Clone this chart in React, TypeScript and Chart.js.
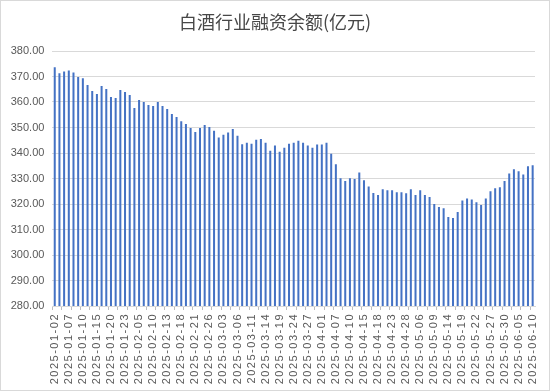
import React, { useEffect, useRef } from "react";
import { Chart, registerables } from "chart.js";

Chart.register(...registerables);

const chartTitle = "白酒行业融资余额(亿元)";

const dates = [
  "2025-01-02", "2025-01-03", "2025-01-06", "2025-01-07", "2025-01-08", "2025-01-09", "2025-01-10",
  "2025-01-13", "2025-01-14", "2025-01-15", "2025-01-16", "2025-01-17", "2025-01-20", "2025-01-21",
  "2025-01-22", "2025-01-23", "2025-01-24", "2025-01-27", "2025-02-05", "2025-02-06", "2025-02-07",
  "2025-02-10", "2025-02-11", "2025-02-12", "2025-02-13", "2025-02-14", "2025-02-17", "2025-02-18",
  "2025-02-19", "2025-02-20", "2025-02-21", "2025-02-24", "2025-02-25", "2025-02-26", "2025-02-27",
  "2025-02-28", "2025-03-03", "2025-03-04", "2025-03-05", "2025-03-06", "2025-03-07", "2025-03-10",
  "2025-03-11", "2025-03-12", "2025-03-13", "2025-03-14", "2025-03-17", "2025-03-18", "2025-03-19",
  "2025-03-20", "2025-03-21", "2025-03-24", "2025-03-25", "2025-03-26", "2025-03-27", "2025-03-28",
  "2025-03-31", "2025-04-01", "2025-04-02", "2025-04-03", "2025-04-07", "2025-04-08", "2025-04-09",
  "2025-04-10", "2025-04-11", "2025-04-14", "2025-04-15", "2025-04-16", "2025-04-17", "2025-04-18",
  "2025-04-21", "2025-04-22", "2025-04-23", "2025-04-24", "2025-04-25", "2025-04-28", "2025-04-29",
  "2025-04-30", "2025-05-06", "2025-05-07", "2025-05-08", "2025-05-09", "2025-05-12", "2025-05-13",
  "2025-05-14", "2025-05-15", "2025-05-16", "2025-05-19", "2025-05-20", "2025-05-21", "2025-05-22",
  "2025-05-23", "2025-05-26", "2025-05-27", "2025-05-28", "2025-05-29", "2025-05-30", "2025-06-03",
  "2025-06-04", "2025-06-05", "2025-06-06", "2025-06-09", "2025-06-10",
];

const balances = [
  373.6, 371.3, 372.0, 372.4, 371.6, 369.8, 369.3, 366.7, 364.3, 363.1,
  366.3, 365.1, 362.0, 361.6, 364.7, 363.9, 362.7, 357.6, 360.8, 360.0,
  358.8, 358.4, 360.0, 358.4, 357.3, 355.3, 354.1, 352.5, 351.4, 349.8,
  348.2, 349.8, 351.0, 350.2, 348.7, 346.1, 347.2, 348.0, 349.4, 346.8,
  343.4, 344.0, 343.6, 345.2, 345.5, 344.0, 340.9, 342.9, 340.5, 342.1,
  343.6, 344.0, 344.8, 344.0, 342.9, 342.1, 343.3, 343.3, 344.0, 339.7,
  335.6, 330.1, 329.0, 330.1, 329.8, 332.4, 329.3, 326.9, 324.3, 323.5,
  325.8, 325.4, 325.4, 324.6, 324.6, 324.2, 325.8, 323.5, 325.4, 323.5,
  322.7, 320.0, 318.8, 318.3, 314.9, 314.5, 316.9, 321.4, 322.2, 321.8,
  320.7, 319.6, 322.2, 325.0, 326.2, 326.6, 329.0, 332.0, 333.6, 332.8,
  331.6, 334.8, 335.2,
];

const yMin = 280;
const yMax = 380;
const yStep = 10;
const labelEvery = 3;

const textColor = "#595959";
const titleColor = "#474747";
const barColor = "#4472C4";
const gridColor = "#d9d9d9";

const spacingPlugin = {
  id: "xLabelSpacing",
  beforeDraw(chart: any) {
    const xs = chart.scales.x;
    if (xs && !xs.__patched) {
      const orig = xs.drawLabels.bind(xs);
      xs.drawLabels = (area: any) => {
        const ctx = chart.ctx;
        ctx.save();
        (ctx as any).letterSpacing = "1.5px";
        orig(area);
        ctx.restore();
      };
      xs.__patched = true;
    }
  },
};

export default function App() {
  const ref = useRef<HTMLCanvasElement>(null);
  useEffect(() => {
    document.body.style.margin = "0";
    const chart = new Chart(ref.current!, {
      type: "bar",
      data: {
        labels: dates,
        datasets: [
          {
            data: balances,
            backgroundColor: barColor,
            barPercentage: 0.43,
            categoryPercentage: 1,
          },
        ],
      },
      plugins: [spacingPlugin],
      options: {
        responsive: false,
        animation: false,
        devicePixelRatio: 1,
        layout: { padding: { left: 0, right: 0, top: 0, bottom: 2 } },
        plugins: {
          legend: { display: false },
          tooltip: { enabled: false },
          title: {
            display: true,
            text: chartTitle,
            color: titleColor,
            font: { family: "'Noto Sans CJK SC', 'Liberation Sans', sans-serif", size: 18, weight: "normal" },
            padding: { top: 10, bottom: 18.4 },
          },
        },
        scales: {
          x: {
            grid: {
              drawOnChartArea: false,
              drawTicks: true,
              tickLength: 4,
              color: (c: any) => (c.index % 2 === 0 ? "#bfbfbf" : "rgba(0,0,0,0)"),
            },
            border: { color: gridColor },
            ticks: {
              autoSkip: false,
              minRotation: 90,
              maxRotation: 90,
              padding: 3,
              color: textColor,
              font: { family: "'Liberation Sans', Arial, sans-serif", size: 11 },
              callback: (_v: any, i: number) => (i % labelEvery === 0 ? dates[i] : ""),
            },
            afterFit: (s: any) => {
              s.height = 82;
            },
          },
          y: {
            min: yMin,
            max: yMax,
            ticks: {
              stepSize: yStep,
              padding: 8,
              color: textColor,
              font: { family: "'Liberation Sans', Arial, sans-serif", size: 11 },
              callback: (v: any) => Number(v).toFixed(2),
            },
            grid: { color: gridColor, drawTicks: false },
            border: { display: false },
            afterFit: (s: any) => {
              s.width = 51.4;
            },
          },
          yRightGap: {
            type: "linear",
            position: "right",
            display: true,
            grid: { display: false, drawTicks: false },
            border: { display: false },
            ticks: { display: false },
            afterFit: (s: any) => {
              s.width = 14;
            },
          },
        },
      },
    });
    return () => chart.destroy();
  }, []);
  return (
    <div
      style={{
        position: "fixed",
        left: 0,
        top: 0,
        width: 550,
        height: 391,
        boxSizing: "border-box",
        border: "1px solid #d9d9d9",
        background: "#fff",
      }}
    >
      <canvas ref={ref} width={548} height={389} style={{ display: "block" }} />
    </div>
  );
}
